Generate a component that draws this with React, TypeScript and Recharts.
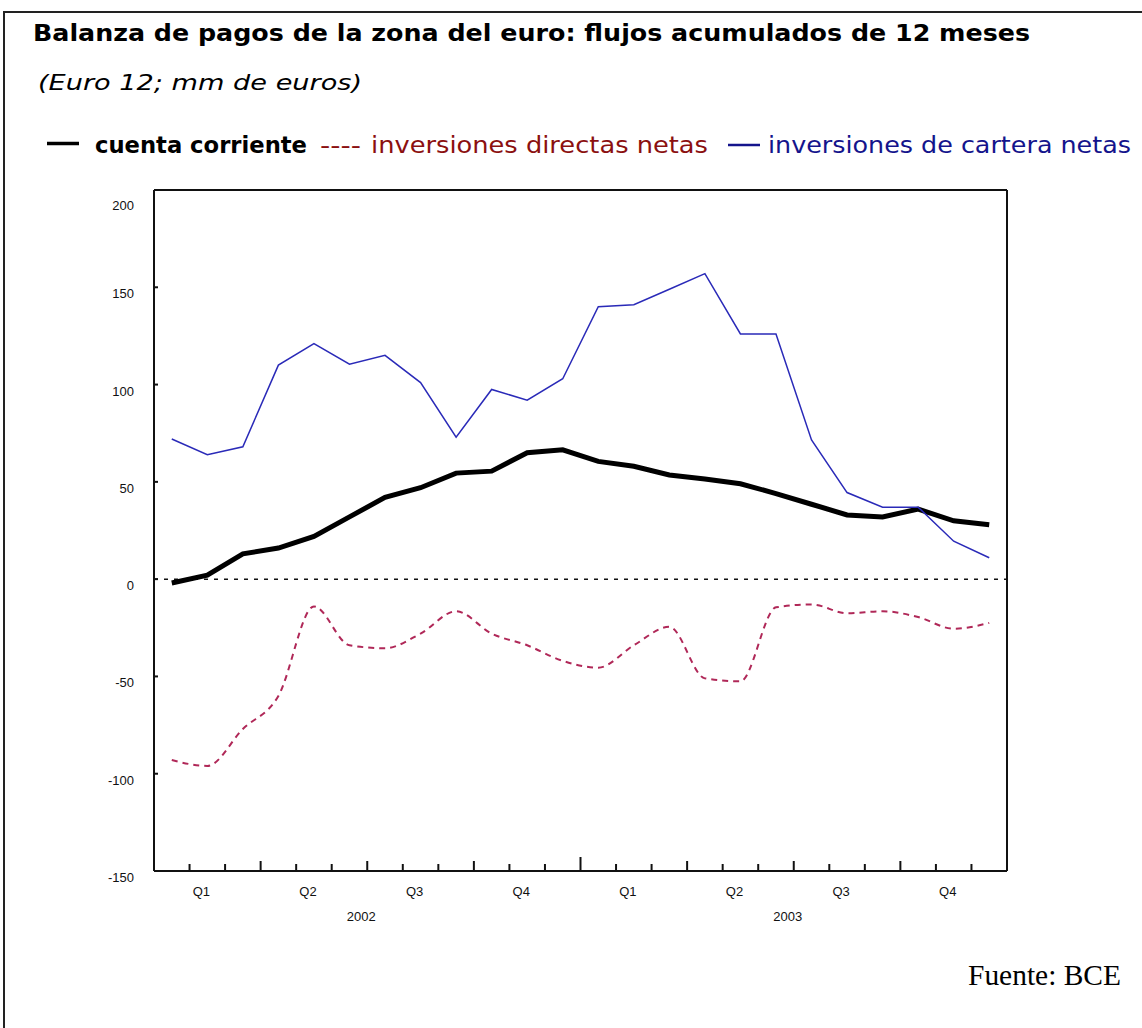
import { LineChart, Line, XAxis, YAxis, ReferenceLine } from 'recharts';

// monthly observations, 12-month cumulated flows (EUR bn)
const months = [
  'ene 02', 'feb 02', 'mar 02', 'abr 02', 'may 02', 'jun 02',
  'jul 02', 'ago 02', 'sep 02', 'oct 02', 'nov 02', 'dic 02',
  'ene 03', 'feb 03', 'mar 03', 'abr 03', 'may 03', 'jun 03',
  'jul 03', 'ago 03', 'sep 03', 'oct 03', 'nov 03', 'dic 03',
];
const cuentaCorriente = [
  -2, 2, 13, 16, 22, 32, 42, 47, 54.5, 55.5, 65, 66.5,
  60.5, 58, 53.5, 51.5, 49, 44, 38.5, 33, 32, 36, 30, 28,
];
const invDirectas = [
  -93, -96, -77, -60, -14, -34, -35.5, -28, -16.5, -28, -34, -42,
  -45.5, -34, -24.5, -51, -52.5, -14.5, -13, -17.5, -16.5, -19.5, -25.5, -22.5,
];
const invCartera = [
  72, 64, 68, 110, 121, 110.5, 115, 101, 73, 97.5, 92, 103,
  140, 141, 149, 157, 126, 126, 71.5, 44.5, 37, 37, 19.5, 11,
];

const yTicks = [-150, -100, -50, 0, 50, 100, 150, 200];
const quarters = ['Q1', 'Q2', 'Q3', 'Q4'];
const years = ['2002', '2003'];

const data = months.map((m, i) => ({
  month: m,
  t: i + 0.5,
  cc: cuentaCorriente[i],
  id: invDirectas[i],
  ic: invCartera[i],
}));

// month boundaries get tick marks, quarter centres get the Qn labels
const monthTicks = months.map((_, i) => i).concat(months.length);
const quarterTicks = months.map((_, i) => i).filter((i) => i % 3 === 0).map((i) => i + 1.5);
const xTicks = [...monthTicks, ...quarterTicks].sort((a, b) => a - b);

const axisFont = '"Liberation Sans", Arial, sans-serif';
const titleFont = '"DejaVu Sans", sans-serif';
const ink = '#111';

function MonthTick(props: any) {
  const { x, y, payload } = props;
  const v = payload.value;
  if (!Number.isInteger(v)) {
    return (
      <text x={x - 6} y={y + 25} textAnchor="middle" fontSize={13} fontFamily={axisFont} fill={ink}>
        {quarters[Math.floor(v / 3) % 4]}
      </text>
    );
  }
  const len = v % 12 === 0 ? 14 : v % 3 === 0 ? 10 : 7;
  const edge = v === 0 || v === months.length;
  return (
    <g>
      {!edge && <line x1={x} x2={x} y1={y} y2={y - len} stroke={ink} strokeWidth={2} />}
      {v % 12 === 6 && (
        <text x={x - 6} y={y + 50} textAnchor="middle" fontSize={13} fontFamily={axisFont} fill={ink}>
          {years[Math.floor(v / 12)]}
        </text>
      )}
    </g>
  );
}

function LeftTick(props: any) {
  const { x, y, payload } = props;
  const dy = payload.value === 200 ? 20 : 11;
  return (
    <g>
      <line x1={x} x2={x + 4} y1={y} y2={y} stroke={ink} strokeWidth={2} />
      <text x={x - 20} y={y + dy} textAnchor="end" fontSize={13} fontFamily={axisFont} fill={ink}>
        {payload.value}
      </text>
    </g>
  );
}

function RightTick(props: any) {
  const { x, y, payload } = props;
  const dy = payload.value === 200 ? 20 : 11;
  const dx = payload.value < 0 ? 9 : 14;
  return (
    <g>
      <line x1={x} x2={x - 4} y1={y} y2={y} stroke={ink} strokeWidth={2} />
      <text x={x + dx} y={y + dy} textAnchor="start" fontSize={13} fontFamily={axisFont} fill={ink}>
        {payload.value}
      </text>
    </g>
  );
}

export default function App() {
  return (
    <div style={{ position: 'absolute', left: 0, top: 0, width: 1142, height: 1028, background: '#fff' }}>
      <div
        style={{
          position: 'absolute',
          left: 3,
          top: 11,
          width: 1139,
          height: 1017,
          boxSizing: 'border-box',
          borderTop: '2px solid #222',
          borderLeft: '2px solid #222',
        }}
      />
      <svg width={1142} height={1028} style={{ position: 'absolute', left: 0, top: 0 }}>
        <text x={33} y={41} fontFamily={titleFont} fontWeight="bold" fontSize={23} fill="#000"
          textLength={997} lengthAdjust="spacingAndGlyphs">
          Balanza de pagos de la zona del euro: flujos acumulados de 12 meses
        </text>
        <text x={38} y={90} fontFamily={titleFont} fontStyle="italic" fontSize={22} fill="#000"
          textLength={324} lengthAdjust="spacingAndGlyphs">
          (Euro 12; mm de euros)
        </text>

        {/* legend */}
        <line x1={47} x2={79} y1={143.5} y2={143.5} stroke="#000" strokeWidth={3.5} />
        <text x={95} y={153} fontFamily={titleFont} fontWeight="bold" fontSize={23} fill="#000"
          textLength={212} lengthAdjust="spacingAndGlyphs">
          cuenta corriente
        </text>
        <text x={320} y={153} fontFamily={titleFont} fontSize={23} fill="#8b1010"
          textLength={41} lengthAdjust="spacingAndGlyphs">
          ----
        </text>
        <text x={371} y={153} fontFamily={titleFont} fontSize={23} fill="#8b1010"
          textLength={337} lengthAdjust="spacingAndGlyphs">
          inversiones directas  netas
        </text>
        <line x1={728} x2={760} y1={145} y2={145} stroke="#14148c" strokeWidth={2.5} />
        <text x={768} y={153} fontFamily={titleFont} fontSize={23} fill="#14148c"
          textLength={363} lengthAdjust="spacingAndGlyphs">
          inversiones de cartera netas
        </text>

        <text x={968} y={985} fontFamily='"Liberation Serif", "Times New Roman", serif' fontSize={29} fill="#000"
          textLength={153} lengthAdjust="spacingAndGlyphs">
          Fuente: BCE
        </text>
      </svg>

      <div style={{ position: 'absolute', left: 0, top: 0 }}>
        <LineChart width={1142} height={960} data={data} margin={{ top: 190, right: 75, bottom: 29, left: 94 }}>
          <XAxis
            dataKey="t"
            type="number"
            domain={[0, months.length]}
            ticks={xTicks}
            interval={0}
            height={60}
            tickSize={0}
            tickMargin={0}
            tickLine={false}
            axisLine={{ stroke: ink, strokeWidth: 2 }}
            tick={<MonthTick />}
          />
          <YAxis
            domain={[-150, 200]}
            ticks={yTicks}
            width={60}
            interval={0}
            tickSize={0}
            tickMargin={0}
            tickLine={false}
            axisLine={{ stroke: ink, strokeWidth: 2 }}
            tick={<LeftTick />}
          />
          <YAxis
            yAxisId="r"
            orientation="right"
            domain={[-150, 200]}
            ticks={yTicks}
            width={60}
            interval={0}
            tickSize={0}
            tickMargin={0}
            tickLine={false}
            axisLine={{ stroke: ink, strokeWidth: 2 }}
            tick={<RightTick />}
          />
          <ReferenceLine y={200} stroke={ink} strokeWidth={2} />
          <ReferenceLine y={0} stroke={ink} strokeWidth={1.5} strokeDasharray="4 6" />
          <Line
            type="monotone"
            dataKey="id"
            name="inversiones directas netas"
            stroke="#b02858"
            strokeWidth={2}
            strokeDasharray="6 5"
            dot={false}
            isAnimationActive={false}
          />
          <Line
            type="linear"
            dataKey="cc"
            name="cuenta corriente"
            stroke="#000"
            strokeWidth={5}
            dot={false}
            isAnimationActive={false}
          />
          <Line
            type="linear"
            dataKey="ic"
            name="inversiones de cartera netas"
            stroke="#2a2ab8"
            strokeWidth={1.5}
            dot={false}
            isAnimationActive={false}
          />
        </LineChart>
      </div>
    </div>
  );
}
